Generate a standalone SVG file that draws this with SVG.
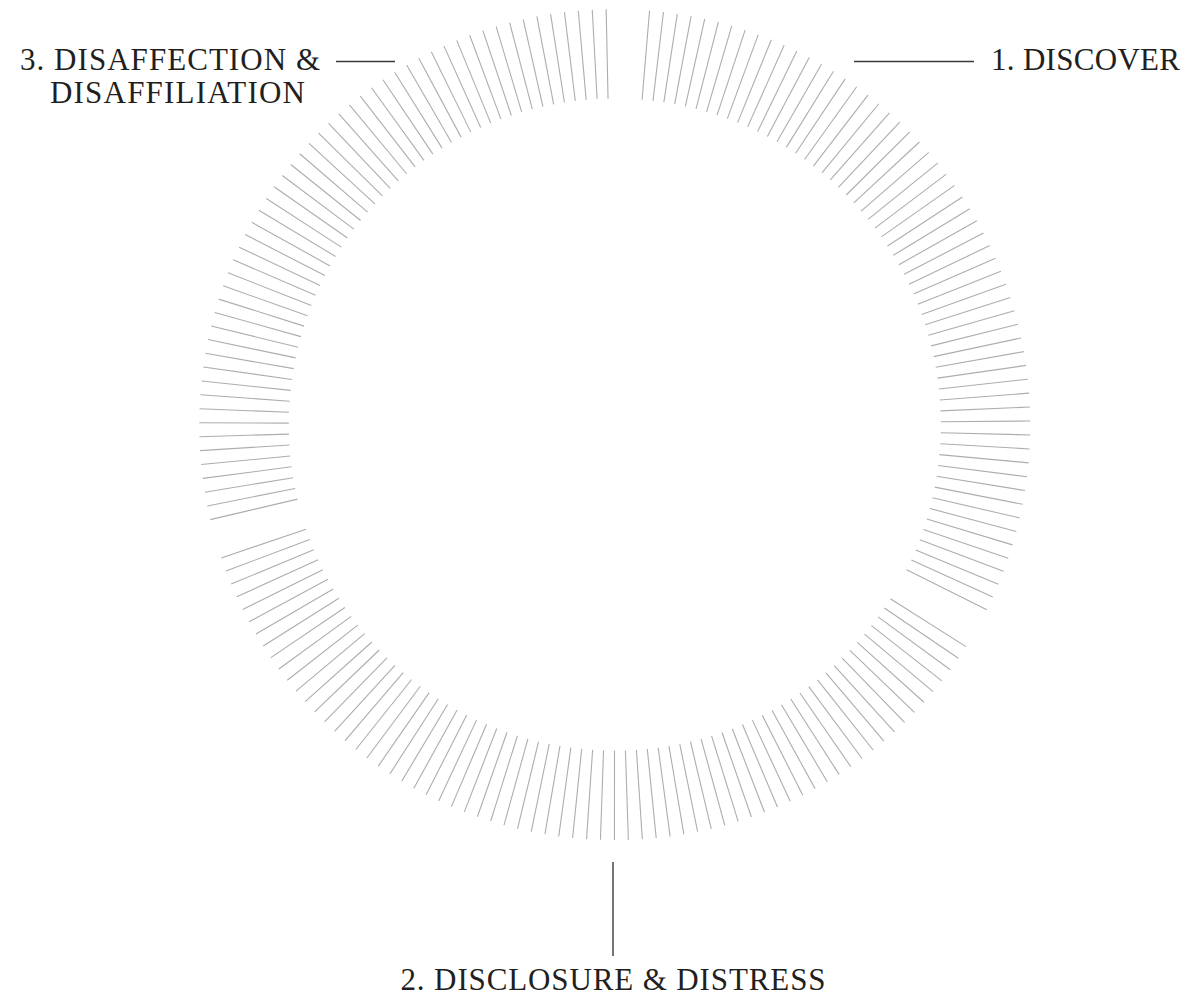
<svg xmlns="http://www.w3.org/2000/svg" xmlns:xlink="http://www.w3.org/1999/xlink" width="1186" height="998" viewBox="0 0 1186 998">
<style>
.lead{stroke:#3a3a3a;stroke-width:1.4;fill:none}
.lbl{font-family:"Liberation Serif","Times New Roman",serif;font-size:31px;fill:#231f20}
</style>
<defs>
<line id="t" x1="326" y1="0" x2="415.5" y2="0" stroke="#adadad" stroke-width="1.1"/>
</defs>
<rect width="1186" height="998" fill="#ffffff"/>
<g id="ring" transform="translate(614.8,424.6)">
<g id="seg1" transform="rotate(274.8)">
<use href="#t"/><use href="#t" transform="rotate(1.93)"/><use href="#t" transform="rotate(3.85)"/><use href="#t" transform="rotate(5.78)"/><use href="#t" transform="rotate(7.70)"/><use href="#t" transform="rotate(9.63)"/><use href="#t" transform="rotate(11.55)"/><use href="#t" transform="rotate(13.48)"/><use href="#t" transform="rotate(15.40)"/><use href="#t" transform="rotate(17.33)"/><use href="#t" transform="rotate(19.25)"/><use href="#t" transform="rotate(21.18)"/><use href="#t" transform="rotate(23.10)"/><use href="#t" transform="rotate(25.03)"/><use href="#t" transform="rotate(26.95)"/><use href="#t" transform="rotate(28.88)"/><use href="#t" transform="rotate(30.80)"/><use href="#t" transform="rotate(32.73)"/><use href="#t" transform="rotate(34.65)"/><use href="#t" transform="rotate(36.58)"/><use href="#t" transform="rotate(38.50)"/><use href="#t" transform="rotate(40.43)"/><use href="#t" transform="rotate(42.35)"/><use href="#t" transform="rotate(44.28)"/><use href="#t" transform="rotate(46.20)"/><use href="#t" transform="rotate(48.13)"/><use href="#t" transform="rotate(50.05)"/><use href="#t" transform="rotate(51.98)"/><use href="#t" transform="rotate(53.90)"/><use href="#t" transform="rotate(55.83)"/><use href="#t" transform="rotate(57.75)"/><use href="#t" transform="rotate(59.68)"/><use href="#t" transform="rotate(61.60)"/><use href="#t" transform="rotate(63.53)"/><use href="#t" transform="rotate(65.45)"/><use href="#t" transform="rotate(67.38)"/><use href="#t" transform="rotate(69.30)"/><use href="#t" transform="rotate(71.23)"/><use href="#t" transform="rotate(73.16)"/><use href="#t" transform="rotate(75.08)"/><use href="#t" transform="rotate(77.01)"/><use href="#t" transform="rotate(78.93)"/><use href="#t" transform="rotate(80.86)"/><use href="#t" transform="rotate(82.78)"/><use href="#t" transform="rotate(84.71)"/><use href="#t" transform="rotate(86.63)"/><use href="#t" transform="rotate(88.56)"/><use href="#t" transform="rotate(90.48)"/><use href="#t" transform="rotate(92.41)"/><use href="#t" transform="rotate(94.33)"/><use href="#t" transform="rotate(96.26)"/><use href="#t" transform="rotate(98.18)"/><use href="#t" transform="rotate(100.11)"/><use href="#t" transform="rotate(102.03)"/><use href="#t" transform="rotate(103.96)"/><use href="#t" transform="rotate(105.88)"/><use href="#t" transform="rotate(107.81)"/><use href="#t" transform="rotate(109.73)"/><use href="#t" transform="rotate(111.66)"/>
</g>
<g id="seg2" transform="rotate(32.3)">
<use href="#t"/><use href="#t" transform="rotate(1.93)"/><use href="#t" transform="rotate(3.85)"/><use href="#t" transform="rotate(5.78)"/><use href="#t" transform="rotate(7.70)"/><use href="#t" transform="rotate(9.63)"/><use href="#t" transform="rotate(11.55)"/><use href="#t" transform="rotate(13.48)"/><use href="#t" transform="rotate(15.40)"/><use href="#t" transform="rotate(17.33)"/><use href="#t" transform="rotate(19.25)"/><use href="#t" transform="rotate(21.18)"/><use href="#t" transform="rotate(23.10)"/><use href="#t" transform="rotate(25.03)"/><use href="#t" transform="rotate(26.95)"/><use href="#t" transform="rotate(28.88)"/><use href="#t" transform="rotate(30.80)"/><use href="#t" transform="rotate(32.73)"/><use href="#t" transform="rotate(34.65)"/><use href="#t" transform="rotate(36.58)"/><use href="#t" transform="rotate(38.50)"/><use href="#t" transform="rotate(40.43)"/><use href="#t" transform="rotate(42.35)"/><use href="#t" transform="rotate(44.28)"/><use href="#t" transform="rotate(46.20)"/><use href="#t" transform="rotate(48.13)"/><use href="#t" transform="rotate(50.05)"/><use href="#t" transform="rotate(51.98)"/><use href="#t" transform="rotate(53.90)"/><use href="#t" transform="rotate(55.83)"/><use href="#t" transform="rotate(57.75)"/><use href="#t" transform="rotate(59.68)"/><use href="#t" transform="rotate(61.60)"/><use href="#t" transform="rotate(63.53)"/><use href="#t" transform="rotate(65.45)"/><use href="#t" transform="rotate(67.38)"/><use href="#t" transform="rotate(69.30)"/><use href="#t" transform="rotate(71.23)"/><use href="#t" transform="rotate(73.16)"/><use href="#t" transform="rotate(75.08)"/><use href="#t" transform="rotate(77.01)"/><use href="#t" transform="rotate(78.93)"/><use href="#t" transform="rotate(80.86)"/><use href="#t" transform="rotate(82.78)"/><use href="#t" transform="rotate(84.71)"/><use href="#t" transform="rotate(86.63)"/><use href="#t" transform="rotate(88.56)"/><use href="#t" transform="rotate(90.48)"/><use href="#t" transform="rotate(92.41)"/><use href="#t" transform="rotate(94.33)"/><use href="#t" transform="rotate(96.26)"/><use href="#t" transform="rotate(98.18)"/><use href="#t" transform="rotate(100.11)"/><use href="#t" transform="rotate(102.03)"/><use href="#t" transform="rotate(103.96)"/><use href="#t" transform="rotate(105.88)"/><use href="#t" transform="rotate(107.81)"/><use href="#t" transform="rotate(109.73)"/><use href="#t" transform="rotate(111.66)"/><use href="#t" transform="rotate(113.58)"/><use href="#t" transform="rotate(115.51)"/><use href="#t" transform="rotate(117.43)"/><use href="#t" transform="rotate(119.36)"/><use href="#t" transform="rotate(121.28)"/><use href="#t" transform="rotate(123.21)"/><use href="#t" transform="rotate(125.13)"/><use href="#t" transform="rotate(127.06)"/><use href="#t" transform="rotate(128.98)"/>
</g>
<g id="seg3" transform="rotate(166.78)">
<use href="#t"/><use href="#t" transform="rotate(1.93)"/><use href="#t" transform="rotate(3.85)"/><use href="#t" transform="rotate(5.78)"/><use href="#t" transform="rotate(7.70)"/><use href="#t" transform="rotate(9.63)"/><use href="#t" transform="rotate(11.55)"/><use href="#t" transform="rotate(13.48)"/><use href="#t" transform="rotate(15.40)"/><use href="#t" transform="rotate(17.33)"/><use href="#t" transform="rotate(19.25)"/><use href="#t" transform="rotate(21.18)"/><use href="#t" transform="rotate(23.10)"/><use href="#t" transform="rotate(25.03)"/><use href="#t" transform="rotate(26.95)"/><use href="#t" transform="rotate(28.88)"/><use href="#t" transform="rotate(30.80)"/><use href="#t" transform="rotate(32.73)"/><use href="#t" transform="rotate(34.65)"/><use href="#t" transform="rotate(36.58)"/><use href="#t" transform="rotate(38.50)"/><use href="#t" transform="rotate(40.43)"/><use href="#t" transform="rotate(42.35)"/><use href="#t" transform="rotate(44.28)"/><use href="#t" transform="rotate(46.20)"/><use href="#t" transform="rotate(48.13)"/><use href="#t" transform="rotate(50.05)"/><use href="#t" transform="rotate(51.98)"/><use href="#t" transform="rotate(53.90)"/><use href="#t" transform="rotate(55.83)"/><use href="#t" transform="rotate(57.75)"/><use href="#t" transform="rotate(59.68)"/><use href="#t" transform="rotate(61.60)"/><use href="#t" transform="rotate(63.53)"/><use href="#t" transform="rotate(65.45)"/><use href="#t" transform="rotate(67.38)"/><use href="#t" transform="rotate(69.30)"/><use href="#t" transform="rotate(71.23)"/><use href="#t" transform="rotate(73.16)"/><use href="#t" transform="rotate(75.08)"/><use href="#t" transform="rotate(77.01)"/><use href="#t" transform="rotate(78.93)"/><use href="#t" transform="rotate(80.86)"/><use href="#t" transform="rotate(82.78)"/><use href="#t" transform="rotate(84.71)"/><use href="#t" transform="rotate(86.63)"/><use href="#t" transform="rotate(88.56)"/><use href="#t" transform="rotate(90.48)"/><use href="#t" transform="rotate(92.41)"/><use href="#t" transform="rotate(94.33)"/><use href="#t" transform="rotate(96.26)"/><use href="#t" transform="rotate(98.18)"/><use href="#t" transform="rotate(100.11)"/><use href="#t" transform="rotate(102.03)"/>
</g>
</g>
<g id="connectors">
<line class="lead" x1="854" y1="61.5" x2="974" y2="61.5"/>
<line class="lead" x1="336" y1="61.5" x2="395" y2="61.5"/>
<line class="lead" x1="613" y1="862" x2="613" y2="956"/>
</g>
<g id="node-discover">
<text class="lbl" x="1180" y="70" text-anchor="end" textLength="189" lengthAdjust="spacing">1. DISCOVER</text>
</g>
<g id="node-disaffection">
<text class="lbl" x="20" y="70" textLength="300" lengthAdjust="spacing">3. DISAFFECTION &amp;</text>
<text class="lbl" x="50" y="103" textLength="255" lengthAdjust="spacing">DISAFFILIATION</text>
</g>
<g id="node-disclosure">
<text class="lbl" x="613" y="990" text-anchor="middle" textLength="425" lengthAdjust="spacing">2. DISCLOSURE &amp; DISTRESS</text>
</g>
</svg>
